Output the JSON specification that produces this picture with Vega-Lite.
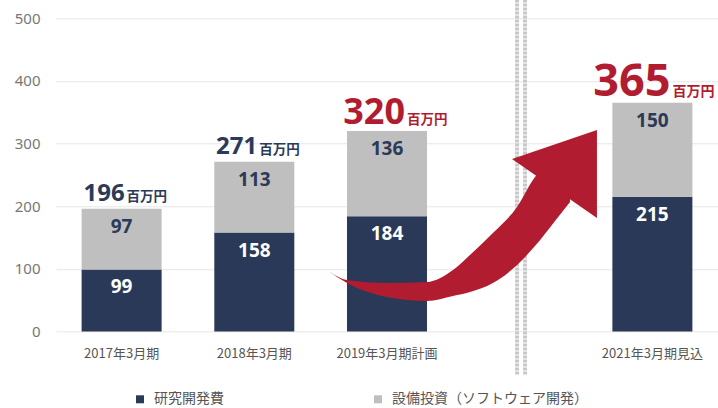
{
  "$schema": "https://vega.github.io/schema/vega-lite/v6.json",
  "width": 662,
  "height": 313.2,
  "autosize": {"type": "none"},
  "padding": {"left": 56, "top": 18.3, "right": 0, "bottom": 76.5},
  "config": {
    "view": {"stroke": null},
    "font": "Noto Sans CJK JP"
  },
  "datasets": {
    "bars": [
      {"period": "2017年3月期", "type": "研究開発費", "value": 99},
      {"period": "2017年3月期", "type": "設備投資（ソフトウェア開発）", "value": 97},
      {"period": "2018年3月期", "type": "研究開発費", "value": 158},
      {"period": "2018年3月期", "type": "設備投資（ソフトウェア開発）", "value": 113},
      {"period": "2019年3月期計画", "type": "研究開発費", "value": 184},
      {"period": "2019年3月期計画", "type": "設備投資（ソフトウェア開発）", "value": 136},
      {"period": "2021年3月期見込", "type": "研究開発費", "value": 215},
      {"period": "2021年3月期見込", "type": "設備投資（ソフトウェア開発）", "value": 150}
    ],
    "arrowBody": [
      {"u": 1.548, "top": 98.2, "bottom": 98.2},
      {"u": 1.699, "top": 82.2, "bottom": 77.4},
      {"u": 2.0, "top": 77.4, "bottom": 55.1},
      {"u": 2.301, "top": 79.0, "bottom": 48.7},
      {"u": 2.497, "top": 98.2, "bottom": 56.7},
      {"u": 2.625, "top": 122.1, "bottom": 63.1},
      {"u": 2.798, "top": 157.2, "bottom": 77.4},
      {"u": 2.98, "top": 198.8, "bottom": 106.2},
      {"u": 3.115, "top": 246.6, "bottom": 136.5},
      {"u": 3.266, "top": 273.8, "bottom": 176.6},
      {"u": 3.379, "top": 286.6, "bottom": 206.7}
    ],
    "arrowHead": [
      {"u": 2.942, "top": 275.4, "bottom": 275.4},
      {"u": 3.582, "top": 321.5, "bottom": 181.2}
    ],
    "breakLines": [
      {"u": 2.98, "top": 530, "bottom": -70},
      {"u": 3.04, "top": 530, "bottom": -70}
    ]
  },
  "resolve": {"scale": {"x": "independent"}},
  "layer": [
    {
      "layer": [
        {
          "data": {"name": "bars"},
          "transform": [
            {"stack": "value", "groupby": ["period"], "sort": [{"field": "type", "order": "ascending"}], "as": ["v0", "v1"]}
          ],
          "mark": {"type": "bar"},
          "encoding": {
            "x": {
              "field": "period", "type": "nominal",
              "scale": {"domain": ["2017年3月期", "2018年3月期", "2019年3月期計画", "_", "2021年3月期見込"], "paddingInner": 0.397, "paddingOuter": 0.193},
              "axis": {"title": null, "domain": false, "ticks": false, "labelAngle": 0, "labelPadding": 16, "labelFontSize": 13, "labelColor": "#555555", "labelFont": "Noto Sans CJK JP", "labelExpr": "datum.value == '_' ? '' : datum.value"}
            },
            "y": {
              "field": "v0", "type": "quantitative",
              "scale": {"domain": [0, 500], "nice": false},
              "axis": {"title": null, "domain": false, "ticks": false, "values": [0, 100, 200, 300, 400, 500], "gridColor": "#e6e6e6", "labelColor": "#777777", "labelFontSize": 15, "labelPadding": 16, "labelFont": "Noto Sans"}
            },
            "y2": {"field": "v1"},
            "color": {
              "field": "type", "type": "nominal",
              "scale": {"domain": ["研究開発費", "設備投資（ソフトウェア開発）"], "range": ["#293957", "#bfbfbf"]},
              "legend": {"title": null, "orient": "none", "direction": "horizontal", "legendX": 77, "legendY": 374, "symbolType": "square", "symbolSize": 64, "symbolStrokeWidth": 0, "labelFontSize": 14, "labelColor": "#555555", "labelFont": "Noto Sans CJK JP", "labelOffset": 7, "columnPadding": 147, "labelLimit": 400, "padding": 0}
            }
          }
        },
        {
          "data": {"name": "bars"},
          "transform": [
            {"stack": "value", "groupby": ["period"], "sort": [{"field": "type", "order": "ascending"}], "as": ["v0", "v1"]},
            {"filter": "datum.type == '研究開発費'"}
          ],
          "mark": {"type": "text", "baseline": "middle", "dy": 18, "fontSize": 19, "fontWeight": "bold", "font": "Noto Sans", "color": "#ffffff"},
          "encoding": {
            "x": {"field": "period", "type": "nominal"},
            "y": {"field": "v1", "type": "quantitative"},
            "text": {"field": "value", "type": "quantitative"}
          }
        },
        {
          "data": {"name": "bars"},
          "transform": [
            {"stack": "value", "groupby": ["period"], "sort": [{"field": "type", "order": "ascending"}], "as": ["v0", "v1"]},
            {"filter": "datum.type != '研究開発費'"}
          ],
          "mark": {"type": "text", "baseline": "middle", "dy": 18, "fontSize": 19, "fontWeight": "bold", "font": "Noto Sans", "color": "#2b3a58"},
          "encoding": {
            "x": {"field": "period", "type": "nominal"},
            "y": {"field": "v1", "type": "quantitative"},
            "text": {"field": "value", "type": "quantitative"}
          }
        },
        {
          "data": {"name": "bars"},
          "transform": [
            {"aggregate": [{"op": "sum", "field": "value", "as": "total"}], "groupby": ["period"]},
            {"filter": "datum.period == '2017年3月期' || datum.period == '2018年3月期'"}
          ],
          "layer": [
            {
              "mark": {"type": "text", "align": "right", "baseline": "alphabetic", "dx": 3, "dy": -8, "fontSize": 24, "fontWeight": "bold", "font": "Noto Sans", "color": "#2b3a58"},
              "encoding": {
                "x": {"field": "period", "type": "nominal"},
                "y": {"field": "total", "type": "quantitative"},
                "text": {"field": "total", "type": "quantitative"}
              }
            },
            {
              "mark": {"type": "text", "align": "left", "baseline": "alphabetic", "dx": 5, "dy": -8, "fontSize": 13.5, "fontWeight": "bold", "font": "Noto Sans CJK JP", "color": "#2b3a58", "text": "百万円"},
              "encoding": {
                "x": {"field": "period", "type": "nominal"},
                "y": {"field": "total", "type": "quantitative"}
              }
            }
          ]
        },
        {
          "data": {"name": "bars"},
          "transform": [
            {"aggregate": [{"op": "sum", "field": "value", "as": "total"}], "groupby": ["period"]},
            {"filter": "datum.period == '2019年3月期計画'"}
          ],
          "layer": [
            {
              "mark": {"type": "text", "align": "right", "baseline": "alphabetic", "dx": 18, "dy": -7, "fontSize": 36, "fontWeight": "bold", "font": "Noto Sans", "color": "#b21c31"},
              "encoding": {
                "x": {"field": "period", "type": "nominal"},
                "y": {"field": "total", "type": "quantitative"},
                "text": {"field": "total", "type": "quantitative"}
              }
            },
            {
              "mark": {"type": "text", "align": "left", "baseline": "alphabetic", "dx": 20, "dy": -7, "fontSize": 13.5, "fontWeight": "bold", "font": "Noto Sans CJK JP", "color": "#b21c31", "text": "百万円"},
              "encoding": {
                "x": {"field": "period", "type": "nominal"},
                "y": {"field": "total", "type": "quantitative"}
              }
            }
          ]
        },
        {
          "data": {"name": "bars"},
          "transform": [
            {"aggregate": [{"op": "sum", "field": "value", "as": "total"}], "groupby": ["period"]},
            {"filter": "datum.period == '2021年3月期見込'"}
          ],
          "layer": [
            {
              "mark": {"type": "text", "align": "right", "baseline": "alphabetic", "dx": 18, "dy": -7, "fontSize": 45, "fontWeight": "bold", "font": "Noto Sans", "color": "#b21c31"},
              "encoding": {
                "x": {"field": "period", "type": "nominal"},
                "y": {"field": "total", "type": "quantitative"},
                "text": {"field": "total", "type": "quantitative"}
              }
            },
            {
              "mark": {"type": "text", "align": "left", "baseline": "alphabetic", "dx": 20, "dy": -7, "fontSize": 14, "fontWeight": "bold", "font": "Noto Sans CJK JP", "color": "#b21c31", "text": "百万円"},
              "encoding": {
                "x": {"field": "period", "type": "nominal"},
                "y": {"field": "total", "type": "quantitative"}
              }
            }
          ]
        }
      ]
    },
    {
      "layer": [
        {
          "data": {"name": "breakLines"},
          "mark": {"type": "rule", "color": "#c8c8c8", "strokeWidth": 4, "strokeDash": [3, 1]},
          "encoding": {
            "x": {"field": "u", "type": "quantitative", "scale": {"domain": [-0.494, 4.494], "nice": false, "zero": false}, "axis": null},
            "y": {"field": "top", "type": "quantitative"},
            "y2": {"field": "bottom"}
          }
        },
        {
          "data": {"name": "arrowBody"},
          "mark": {"type": "area", "color": "#b21c31", "interpolate": "monotone", "opacity": 1},
          "encoding": {
            "x": {"field": "u", "type": "quantitative"},
            "y": {"field": "top", "type": "quantitative"},
            "y2": {"field": "bottom"}
          }
        },
        {
          "data": {"name": "arrowHead"},
          "mark": {"type": "area", "color": "#b21c31", "opacity": 1},
          "encoding": {
            "x": {"field": "u", "type": "quantitative"},
            "y": {"field": "top", "type": "quantitative"},
            "y2": {"field": "bottom"}
          }
        }
      ]
    }
  ]
}
